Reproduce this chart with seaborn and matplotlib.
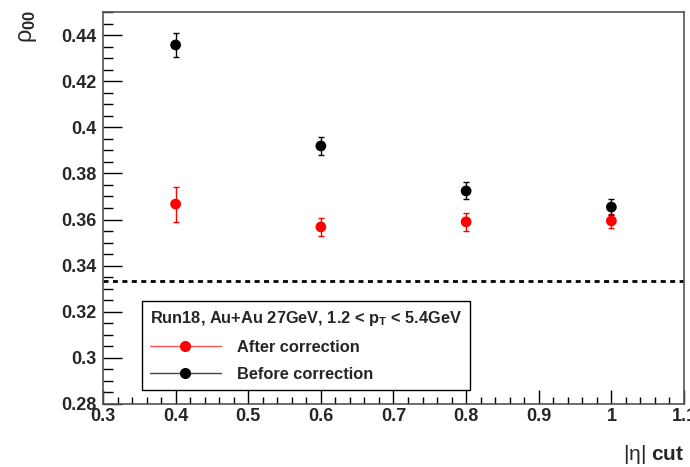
import numpy as np
import pandas as pd
import seaborn as sns
import matplotlib
matplotlib.use("Agg")
import matplotlib.pyplot as plt
from matplotlib.lines import Line2D
from matplotlib.ticker import MultipleLocator

# ---- data ----
eta_cut = [0.4, 0.6, 0.8, 1.0]
rho_after = [0.3667, 0.3568, 0.3590, 0.3594]
err_after = [0.0076, 0.0040, 0.0039, 0.0030]
rho_before = [0.4357, 0.3919, 0.3724, 0.3654]
err_before = [0.0050, 0.0037, 0.0037, 0.0035]
series_names = ["After correction", "Before correction"]
series_colors = ["red", "black"]
reference_value = 1.0 / 3.0
legend_title = r"Run18, Au+Au 27GeV, 1.2 < p$_\mathbf{T}$ < 5.4GeV"
xlabel_text = r"$\mathregular{|\eta|}$ $\mathbf{cut}$"
ylabel_text = r"$\mathregular{\rho}_{\mathbf{00}}$"
x_tick_values = [0.3, 0.4, 0.5, 0.6, 0.7, 0.8, 0.9, 1.0, 1.1]
x_tick_labels = ["0.3", "0.4", "0.5", "0.6", "0.7", "0.8", "0.9", "1", "1.1"]
y_tick_values = [0.28, 0.30, 0.32, 0.34, 0.36, 0.38, 0.40, 0.42, 0.44]
y_tick_labels = ["0.28", "0.3", "0.32", "0.34", "0.36", "0.38", "0.4", "0.42", "0.44"]

sns.set_theme(style="white")
plt.rcParams['font.family'] = ['Liberation Sans', 'DejaVu Sans']
plt.rcParams['mathtext.fontset'] = 'custom'
plt.rcParams['mathtext.rm'] = 'Liberation Sans'
plt.rcParams['mathtext.it'] = 'Liberation Sans:italic'
plt.rcParams['mathtext.bf'] = 'Liberation Sans:bold'

df = pd.DataFrame({
    "eta": eta_cut * 2,
    "rho": rho_after + rho_before,
    "err": err_after + err_before,
    "series": [series_names[0]] * len(eta_cut) + [series_names[1]] * len(eta_cut),
})
palette = dict(zip(series_names, series_colors))

fig = plt.figure(figsize=(6.9, 4.67), dpi=100)
ax = fig.add_axes([103 / 690, 63 / 467, 581 / 690, 392 / 467])

for name in series_names:
    sub = df[df.series == name]
    ax.errorbar(sub.eta, sub.rho, yerr=sub.err, fmt='none', ecolor=palette[name],
                elinewidth=1.0, capsize=2.5, capthick=1.0, zorder=2)
sns.scatterplot(data=df, x="eta", y="rho", hue="series", palette=palette, s=60,
                edgecolor='none', legend=False, ax=ax, zorder=3)

ax.axhline(reference_value, color='black', lw=2.0, ls=(0, (1.8, 1.6)), zorder=1)

ax.set_xlim(0.3, 1.1)
ax.set_ylim(0.28, 0.45)
ax.set_xticks(x_tick_values)
ax.set_xticklabels(x_tick_labels)
ax.set_yticks(y_tick_values)
ax.set_yticklabels(y_tick_labels)
ax.xaxis.set_minor_locator(MultipleLocator(0.02))
ax.yaxis.set_minor_locator(MultipleLocator(0.005))
ax.tick_params(axis='both', which='both', direction='in', top=False, right=False,
               bottom=True, left=True, color='black', width=1.0)
ax.tick_params(axis='y', which='major', length=14, pad=5)
ax.tick_params(axis='y', which='minor', length=7)
ax.tick_params(axis='x', which='major', length=10, pad=3)
ax.tick_params(axis='x', which='minor', length=5)
for lab in ax.get_xticklabels() + ax.get_yticklabels():
    lab.set_fontweight('bold')
    lab.set_fontsize(13)
for sp in ax.spines.values():
    sp.set_color('#555555')
    sp.set_linewidth(1.2)
ax.set_xlabel("")
ax.set_ylabel("")

fig.text(684 / 690, 1 - 455 / 467, xlabel_text, ha='right', va='center', fontsize=15)
fig.text(28 / 690, 1 - 10 / 467, ylabel_text, ha='center', va='top', rotation=90, fontsize=17)

handles = [Line2D([0], [0], color=c, lw=1.0, marker='o', markersize=8, markeredgewidth=0)
           for c in series_colors]
handles[0].set_color('#ff5555')
handles[0].set_markerfacecolor('red')
handles[1].set_color('#444444')
handles[1].set_markerfacecolor('black')
leg = ax.legend(handles, series_names, title=legend_title, loc='upper left',
                bbox_to_anchor=((142 - 103) / 581, (404 - 301) / 392),
                frameon=True, fancybox=False, edgecolor='black', framealpha=1,
                handlelength=4.3, handletextpad=1.0, borderpad=0.5, labelspacing=0.72,
                prop={'weight': 'bold', 'size': 11.8},
                title_fontproperties={'weight': 'bold', 'size': 11.8},
                alignment='left', borderaxespad=0)
leg.get_frame().set_linewidth(1.0)

fig.savefig("out.png", dpi=100)
